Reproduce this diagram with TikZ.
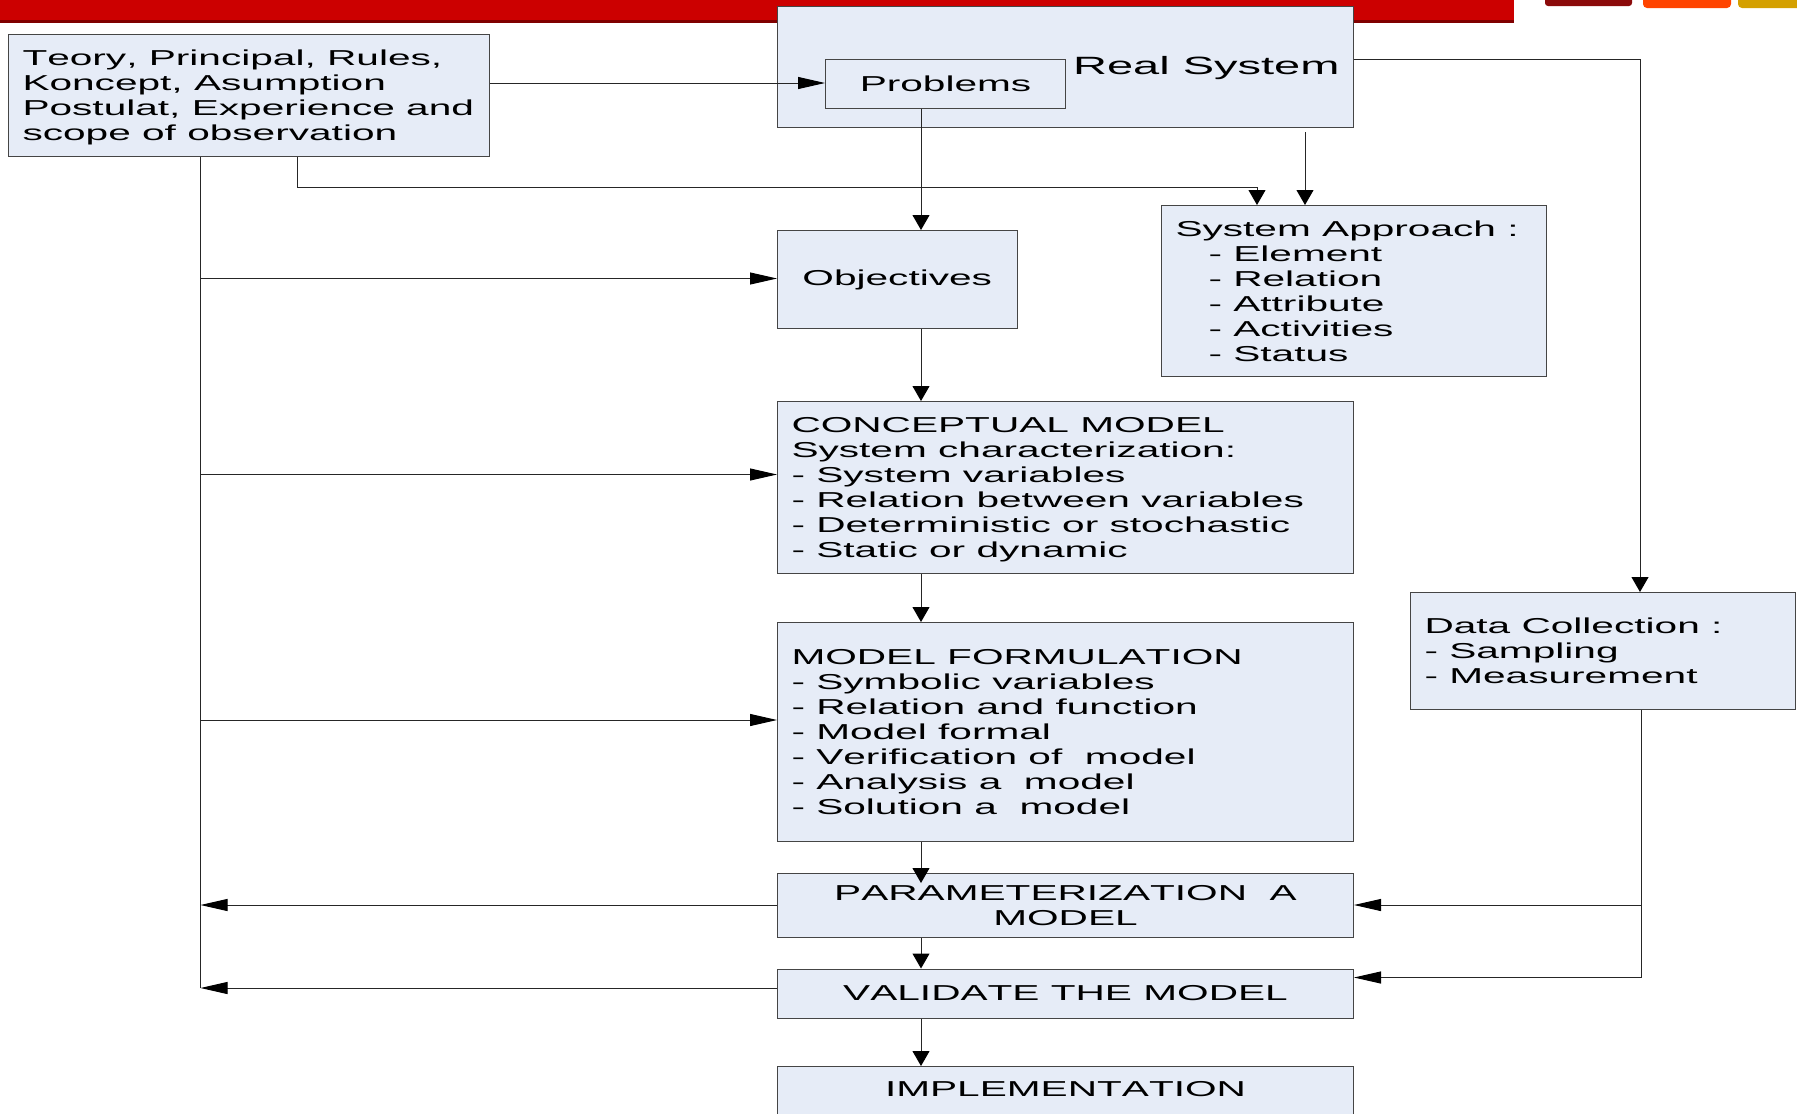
\documentclass[tikz,border=0pt]{standalone}
\usepackage{fontspec}
\setmainfont[FakeStretch=1.88,Kerning=Off]{Liberation Sans}
\usetikzlibrary{arrows.meta}
\definecolor{boxfill}{HTML}{E6ECF7}
\definecolor{boxline}{HTML}{454545}
\definecolor{bandred}{HTML}{CC0000}
\definecolor{banddark}{HTML}{800000}
\definecolor{logored}{HTML}{8B0A0A}
\definecolor{logoorange}{HTML}{FF4400}
\definecolor{logoyellow}{HTML}{D4A000}
\tikzset{
  x=1pt,y=-1pt,
  box/.style={draw=boxline,fill=boxfill,line width=1pt,anchor=north west,inner xsep=14pt,inner ysep=0pt,
    text=black,font=\fontsize{21.6}{25}\selectfont,
    execute at begin node={\frenchspacing\spaceskip=11.3pt\relax}},
  lbox/.style={box,align=left},
  cbox/.style={box,align=center},
  conn/.style={draw=black!85,line width=1pt},
  vtip/.style={conn,-{Triangle[length=15pt,width=17pt,color=black]}},
  htip/.style={conn,-{Triangle[length=27pt,width=12pt,color=black]}},
}
\newcommand{\bx}[5]{\node[#1,minimum width=#4pt,minimum height=#5pt,text width=\dimexpr #4pt-28pt\relax] (#2) at (#3)}
\newcommand{\lowerstrut}{\rule{0pt}{19pt}}
\begin{document}
\begin{tikzpicture}
\useasboundingbox[fill=white] (0,0) rectangle (1797,1114);
% header band and logo fragments
\fill[bandred] (0,0) rectangle (1514,21);
\fill[banddark] (0,20) rectangle (1514,22.7);
\fill[logored,rounded corners=3pt] (1545,-8) rectangle (1632,6);
\fill[logoorange,rounded corners=4pt] (1643,-8) rectangle (1731,8);
\fill[logoyellow,rounded corners=4pt] (1738,-8) rectangle (1810,8);
% boxes
\bx{lbox}{theory}{8,34}{481}{122} {\lowerstrut Teory, Principal, Rules,\\Koncept, Asumption\\Postulat, Experience and\\scope of observation};
\bx{box,align=right,font=\fontsize{25}{29}\selectfont,execute at begin node={\spaceskip=13pt\relax},text height=22pt}{real}{777,5.5}{576}{121} {Real System};
\bx{cbox}{problems}{825,58.5}{240}{49} {Problems};
\bx{cbox}{objectives}{777,230}{239.5}{98} {Objectives};
\bx{lbox}{approach}{1161,205}{384.5}{171} {System Approach :\\\hspace*{33pt}- Element\\\hspace*{33pt}- Relation\\\hspace*{33pt}- Attribute\\\hspace*{33pt}- Activities\\\hspace*{33pt}- Status};
\bx{lbox}{conceptual}{777,401}{576}{172} {\lowerstrut CONCEPTUAL MODEL\\System characterization:\\- System variables\\- Relation between variables\\- Deterministic or stochastic\\- Static or dynamic};
\bx{lbox}{formulation}{777,622}{576}{219} {MODEL FORMULATION\\- Symbolic variables\\- Relation and function\\- Model formal\\- Verification of\ \ model\\- Analysis a\ \ model\\- Solution a\ \ model};
\bx{lbox}{data}{1410,592}{384.5}{117} {Data Collection :\\- Sampling\\- Measurement};
\bx{cbox}{param}{777,873}{576}{64} {PARAMETERIZATION\ \ A\\MODEL};
\bx{cbox}{validate}{777,968.5}{576}{49} {VALIDATE THE MODEL};
\bx{cbox,text depth=25pt}{impl}{777,1066}{576}{70} {IMPLEMENTATION};
% rail and junction coordinates
\coordinate (railtop) at (theory.south -| 200.5,0);
\coordinate (railbot) at (200.5,988);
\coordinate (railobj) at (200.5,278.5);
\coordinate (railcon) at (200.5,474.5);
\coordinate (railfor) at (200.5,720);
\coordinate (railpar) at (200.5,905);
\coordinate (tdrop) at (theory.south -| 297,0);
\coordinate (tturn) at (297,187.5);
\coordinate (tend) at (1257,187.5);
\coordinate (rstart) at (1305,132);
\coordinate (rturn) at (1640,59);
\coordinate (dstart) at (data.south -| 1641,0);
\coordinate (dpar) at (1641,905);
\coordinate (dval) at (1641,977.5);
\coordinate (mainx) at (921,0);
\coordinate (parhit) at (921,883);
% connectors
\draw[htip] (theory.east |- 0,83) -- (problems.west |- 0,83);
\draw[conn] (railtop) -- (railbot);
\draw[htip] (railobj) -- (objectives.west |- railobj);
\draw[htip] (railcon) -- (conceptual.west |- railcon);
\draw[htip] (railfor) -- (formulation.west |- railfor);
\draw[htip] (param.west |- railpar) -- (railpar);
\draw[htip] (validate.west |- railbot) -- (railbot);
\draw[vtip] (tdrop) -- (tturn) -- (tend) -- (tend |- approach.north);
\draw[vtip] (rstart) -- (rstart |- approach.north);
\draw[vtip] (real.east |- rturn) -- (rturn) -- (rturn |- data.north);
\draw[conn] (dstart) -- (dval);
\draw[htip] (dpar) -- (param.east |- dpar);
\draw[htip] (dval) -- (validate.east |- dval);
\draw[vtip] (mainx |- problems.south) -- (mainx |- objectives.north);
\draw[vtip] (mainx |- objectives.south) -- (mainx |- conceptual.north);
\draw[vtip] (mainx |- conceptual.south) -- (mainx |- formulation.north);
\draw[vtip] (mainx |- formulation.south) -- (parhit);
\draw[vtip] (mainx |- param.south) -- (mainx |- validate.north);
\draw[vtip] (mainx |- validate.south) -- (mainx |- impl.north);
\end{tikzpicture}
\end{document}
